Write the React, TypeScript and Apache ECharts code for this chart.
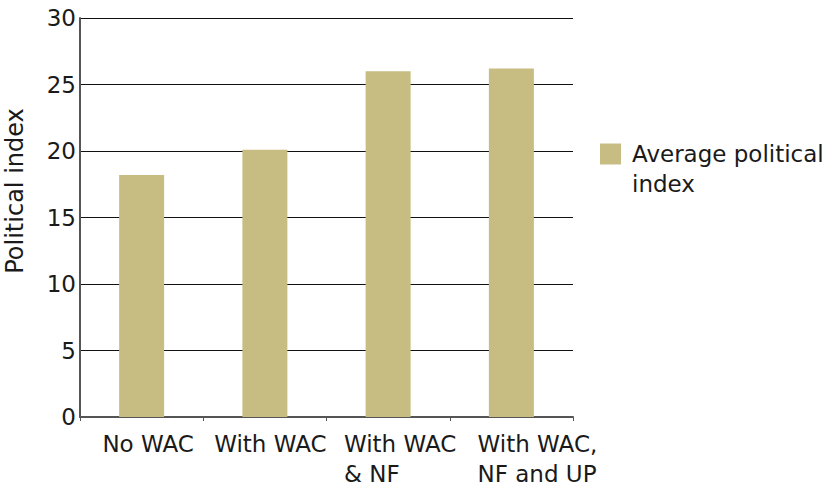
import React, { useEffect, useRef } from "react";
import * as echarts from "echarts";

const categories = ["No WAC", "With WAC", "With WAC\n& NF", "With WAC,\nNF and UP"];
const values = [18.2, 20.1, 26.0, 26.2];
const seriesName = "Average political index";
const legendLabel = "Average political\nindex";
const yAxisName = "Political index";

export default function App() {
  const ref = useRef<HTMLDivElement>(null);
  useEffect(() => {
    if (!ref.current) return;
    const chart = echarts.init(ref.current, undefined, { renderer: "svg" });
    const font = "DejaVu Sans";
    const labelShift = [13, 11, 24, 52];
    const rich: Record<string, any> = {};
    labelShift.forEach((p, i) => {
      rich["l" + i] = {
        align: "left",
        fontFamily: font,
        fontSize: 23,
        lineHeight: 30,
        color: "#1a1a1a",
        padding: [0, 0, 0, p],
      };
    });
    chart.setOption({
      animation: false,
      textStyle: { fontFamily: font },
      legend: {
        show: true,
        left: 595,
        top: 104,
        orient: "vertical",
        icon: "rect",
        itemWidth: 21,
        itemHeight: 21,
        data: [seriesName],
        formatter: () => "\n" + legendLabel,
        textStyle: {
          fontFamily: font,
          fontSize: 23,
          color: "#1a1a1a",
          lineHeight: 30,
          padding: [0, 0, 0, 6],
        },
      },
      grid: { left: 80, right: 259, top: 18, bottom: 76, outerBoundsMode: "none", containLabel: false },
      xAxis: {
        type: "category",
        data: categories,
        axisLine: { show: true, lineStyle: { color: "#555", width: 2 } },
        axisTick: { show: true, alignWithLabel: false, length: 4, lineStyle: { color: "#555" } },
        axisLabel: {
          fontFamily: font,
          fontSize: 23,
          color: "#1a1a1a",
          lineHeight: 30,
          margin: 12,
          interval: 0,
          formatter: (v: string, i: number) =>
            v
              .split("\n")
              .map((s) => `{l${i}|${s}}`)
              .join("\n"),
          rich,
        },
      },
      yAxis: {
        type: "value",
        min: 0,
        max: 30,
        interval: 5,
        name: yAxisName,
        nameLocation: "middle",
        nameGap: 53,
        nameTextStyle: { fontFamily: font, fontSize: 24, color: "#1a1a1a", padding: [0, 0, 0, 53] },
        axisLine: { show: true, lineStyle: { color: "#555", width: 2 } },
        axisTick: { show: false },
        axisLabel: { fontFamily: font, fontSize: 23, color: "#1a1a1a", margin: 4 },
        splitLine: { show: true, lineStyle: { color: "#111", width: 1 } },
      },
      series: [
        {
          name: seriesName,
          type: "bar",
          data: values,
          barWidth: 45,
          itemStyle: { color: "#c7bd83" },
        },
      ],
    });
    return () => chart.dispose();
  }, []);
  return (
    <div
      ref={ref}
      style={{ position: "fixed", left: 0, top: 0, width: 832, height: 493, background: "#fff" }}
    />
  );
}
